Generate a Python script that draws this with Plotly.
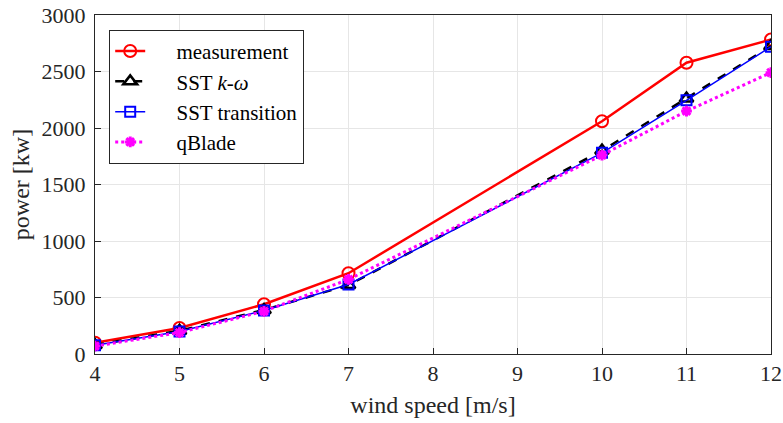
import plotly.graph_objects as go

wind = [4, 5, 6, 7, 10, 11, 12]
measurement = [100, 230, 440, 715, 2060, 2578, 2783]
sst_kw = [80, 205, 390, 610, 1800, 2260, 2725]
sst_trans = [78, 200, 385, 615, 1780, 2245, 2720]
qblade = [70, 190, 378, 660, 1760, 2150, 2490]
names = ["measurement", "SST <i>k</i>-<i>ω</i>", "SST transition", "qBlade"]

pad = "\u00a0" * 5
fig = go.Figure()
fig.add_trace(go.Scatter(x=wind, y=measurement, name=pad + names[0], mode="lines+markers",
                         line=dict(color="#ff0000", width=2.5),
                         marker=dict(symbol="circle-open", size=12, color="#ff0000", line=dict(width=2))))
fig.add_trace(go.Scatter(x=wind, y=sst_kw, name=pad + names[1], mode="lines+markers",
                         line=dict(color="black", width=2.5, dash="dash"),
                         marker=dict(symbol="triangle-up-open", size=12, color="black", line=dict(width=2.5))))
fig.add_trace(go.Scatter(x=wind, y=sst_trans, name=pad + names[2], mode="lines+markers",
                         line=dict(color="#0000ff", width=1.5),
                         marker=dict(symbol="square-open", size=10, color="#0000ff", line=dict(width=2))))
fig.add_trace(go.Scatter(x=wind, y=qblade, name=pad + names[3], mode="lines+markers",
                         line=dict(color="#ff00ff", width=3, dash="dot"),
                         marker=dict(symbol="asterisk-open", size=9, color="#ff00ff", line=dict(width=3, color="#ff00ff"))))

font_family = "Liberation Serif"
fig.update_layout(
    width=783, height=423,
    margin=dict(l=95, r=12, t=15, b=69, autoexpand=False),
    plot_bgcolor="white", paper_bgcolor="white",
    font=dict(family=font_family, size=22, color="#262626"),
    legend=dict(x=0.021, y=0.956, xanchor="left", yanchor="top",
                bordercolor="#262626", borderwidth=1, bgcolor="white",
                font=dict(family=font_family, size=21, color="black"),
                tracegroupgap=0),
    xaxis=dict(range=[4, 12], tickvals=list(range(4, 13)), automargin=False,
               title=dict(text="wind speed [m/s]", standoff=10, font=dict(size=24)),
               showgrid=True, gridcolor="#e6e6e6", gridwidth=1, showline=True, linecolor="#262626", linewidth=1,
               mirror=True, ticks="inside", ticklen=6, tickcolor="#262626", zeroline=False,
               tickfont=dict(size=22)),
    yaxis=dict(range=[0, 3000], tickvals=list(range(0, 3001, 500)), automargin=False,
               title=dict(text="power [kw]", standoff=5, font=dict(size=24)),
               showgrid=True, gridcolor="#e6e6e6", gridwidth=1, showline=True, linecolor="#262626", linewidth=1,
               mirror=True, ticks="inside", ticklen=6, tickcolor="#262626", zeroline=False,
               tickfont=dict(size=22), ticklabelstandoff=4),
)
fig.write_html("out.html", config={"displayModeBar": False},
               post_script="document.body.style.margin='0';")
